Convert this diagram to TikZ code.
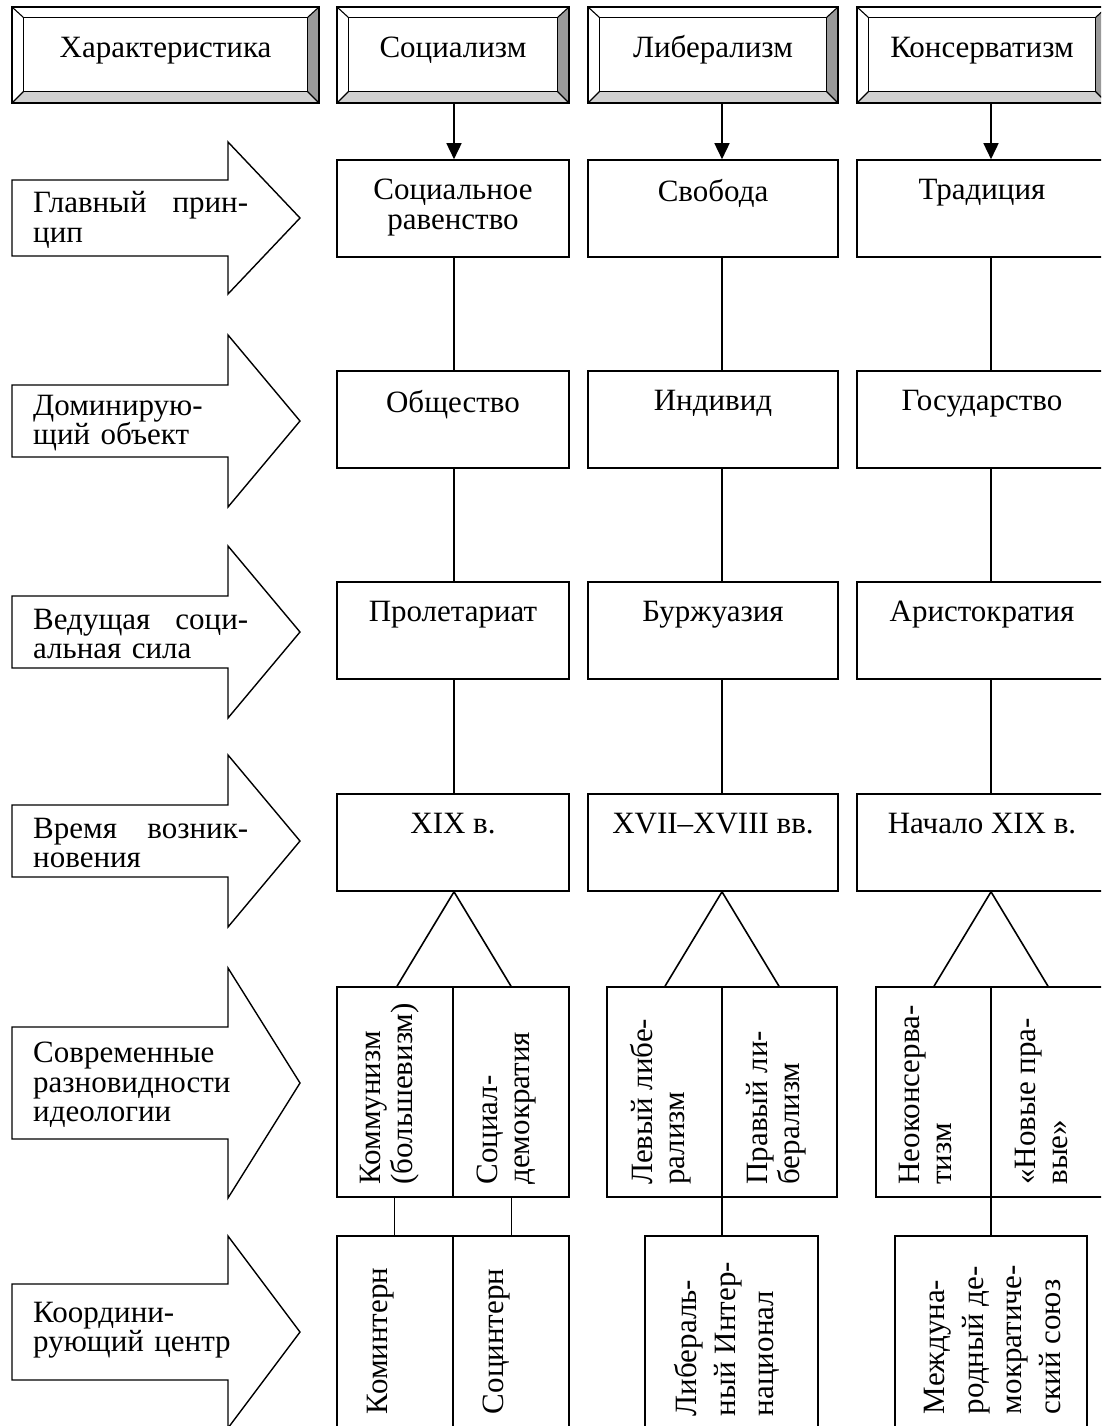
\documentclass[tikz,border=0pt]{standalone}
\usepackage{fontspec}
\setmainfont{Liberation Serif}
\usetikzlibrary{arrows.meta,calc}
\definecolor{bevR}{gray}{0.6}
\definecolor{bevB}{gray}{0.82}
\tikzset{
  ln/.style={line width=1.6pt},
  fnt/.style={font=\fontsize{31}{29.5}\selectfont},
  hbox/.style={inner sep=0pt, minimum height=96pt},
  cbox/.style={draw, ln, inner sep=0pt, minimum height=97pt},
  ctext/.style={fnt, inner sep=0pt, align=center, anchor=north},
  htext/.style={fnt, inner sep=0pt, anchor=base},
  ltext/.style={fnt, inner sep=0pt, text width=215pt, align=left, anchor=west},
  rtext/.style={font=\fontsize{31}{32}\selectfont, rotate=90, anchor=north west, inner sep=0pt, align=left},
  ktext/.style={font=\fontsize{31}{38.5}\selectfont, rotate=90, anchor=north west, inner sep=0pt, align=left},
  tip/.style={-{Triangle[width=15pt,length=16pt]}},
  larrow/.style={line width=1.4pt, line join=miter},
}
\newcommand\bevelbox[1]{%
  \fill[white] (#1.north west) -- (#1.north east) -- ($(#1.north east)+(-12,11)$) -- ($(#1.north west)+(12,11)$) -- cycle;
  \fill[white] (#1.north west) -- (#1.south west) -- ($(#1.south west)+(12,-12)$) -- ($(#1.north west)+(12,11)$) -- cycle;
  \fill[bevR] (#1.north east) -- (#1.south east) -- ($(#1.south east)+(-12,-12)$) -- ($(#1.north east)+(-12,11)$) -- cycle;
  \fill[bevB] (#1.south west) -- (#1.south east) -- ($(#1.south east)+(-12,-12)$) -- ($(#1.south west)+(12,-12)$) -- cycle;
  \draw[line width=1.3pt] ($(#1.north west)+(12,11)$) rectangle ($(#1.south east)+(-12,-12)$);
  \draw[line width=1.1pt] (#1.north west) -- ($(#1.north west)+(12,11)$)
        (#1.north east) -- ($(#1.north east)+(-12,11)$)
        (#1.south west) -- ($(#1.south west)+(12,-12)$)
        (#1.south east) -- ($(#1.south east)+(-12,-12)$);
  \draw[line width=2pt] (#1.north west) rectangle (#1.south east);
}
\newcommand\leftarrowshape[3]{% cy, body half, head half
  \draw[larrow] (12,#1-#2) -- (228,#1-#2) -- (228,#1-#3) -- (300,#1) -- (228,#1+#3) -- (228,#1+#2) -- (12,#1+#2) -- cycle;
}
\begin{document}
\begin{tikzpicture}[x=1pt,y=-1pt]
\useasboundingbox (0,0) rectangle (1101,1426);
\clip (0,0) rectangle (1101,1426);
\fill[white] (0,0) rectangle (1101,1426);

% column line positions
\coordinate (X1) at (454,0);
\coordinate (X2) at (722,0);
\coordinate (X3) at (991,0);

% header boxes
\node[hbox, minimum width=307pt] (h0) at (165.5,55) {};
\node[hbox, minimum width=232pt] (h1) at (453,55) {};
\node[hbox, minimum width=250pt] (h2) at (713,55) {};
\node[hbox, minimum width=250pt] (h3) at (982,55) {};
\bevelbox{h0}\bevelbox{h1}\bevelbox{h2}\bevelbox{h3}
\node[htext] (th0) at (h0.center |- 0,58) {Характеристика};
\node[htext] (th1) at (h1.center |- 0,58) {Социализм};
\node[htext] (th2) at (h2.center |- 0,58) {Либерализм};
\node[htext] (th3) at (h3.center |- 0,58) {Консерватизм};

% row boxes
\foreach \r/\cy in {1/208.5,2/419.5,3/630.5,4/842.5}{
  \node[cbox, minimum width=232pt] (s\r) at (453,\cy) {};
  \node[cbox, minimum width=250pt] (l\r) at (713,\cy) {};
  \node[cbox, minimum width=250pt] (c\r) at (982,\cy) {};
}
\node[ctext] (ts1) at ($(s1.north)+(0,20)$) {Социальное\\равенство};
\node[ctext] (tl1) at ($(l1.north)+(0,20)$) {Свобода};
\node[ctext] (tc1) at ($(c1.north)+(0,20)$) {Традиция};
\node[ctext] (ts2) at ($(s2.north)+(0,20)$) {Общество};
\node[ctext] (tl2) at ($(l2.north)+(0,20)$) {Индивид};
\node[ctext] (tc2) at ($(c2.north)+(0,20)$) {Государство};
\node[ctext] (ts3) at ($(s3.north)+(0,20)$) {Пролетариат};
\node[ctext] (tl3) at ($(l3.north)+(0,20)$) {Буржуазия};
\node[ctext] (tc3) at ($(c3.north)+(0,20)$) {Аристократия};
\node[ctext] (ts4) at ($(s4.north)+(0,20)$) {XIX в.};
\node[ctext] (tl4) at ($(l4.north)+(0,20)$) {XVII–XVIII вв.};
\node[ctext] (tc4) at ($(c4.north)+(0,20)$) {Начало XIX в.};

% arrows from headers
\draw[ln, tip] (h1.south -| X1) -- (s1.north -| X1);
\draw[ln, tip] (h2.south -| X2) -- (l1.north -| X2);
\draw[ln, tip] (h3.south -| X3) -- (c1.north -| X3);
% vertical connectors
\foreach \a/\b in {1/2,2/3,3/4}{
  \draw[ln] (s\a.south -| X1) -- (s\b.north -| X1);
  \draw[ln] (l\a.south -| X2) -- (l\b.north -| X2);
  \draw[ln] (c\a.south -| X3) -- (c\b.north -| X3);
}

% variety boxes
\node[cbox, minimum width=232pt, minimum height=210pt] (v1) at (453,1092) {};
\node[cbox, minimum width=230pt, minimum height=210pt] (v2) at (722,1092) {};
\node[cbox, minimum width=230pt, minimum height=210pt] (v3) at (991,1092) {};
\draw[ln] (v1.north) -- (v1.south);
\draw[ln] (v2.north) -- (v2.south);
\draw[ln] (v3.north) -- (v3.south);
% triangles
\draw[ln] ($(v1.north -| X1)+(-57,0)$) -- (s4.south -| X1) -- ($(v1.north -| X1)+(57,0)$);
\draw[ln] ($(v2.north -| X2)+(-57,0)$) -- (l4.south -| X2) -- ($(v2.north -| X2)+(57,0)$);
\draw[ln] ($(v3.north -| X3)+(-57,0)$) -- (c4.south -| X3) -- ($(v3.north -| X3)+(57,0)$);

\node[rtext] (tv1a) at ($(v1.south west)+(24,-13)$) {Коммунизм\\(большевизм)};
\node[rtext] (tv1b) at ($(v1.south)+(24,-13)$) {Социал-\\демократия};
\node[rtext] (tv2a) at ($(v2.south west)+(24,-13)$) {Левый либе-\\рализм};
\node[rtext] (tv2b) at ($(v2.south)+(24,-13)$) {Правый ли-\\берализм};
\node[rtext] (tv3a) at ($(v3.south west)+(24,-13)$) {Неоконсерва-\\тизм};
\node[rtext] (tv3b) at ($(v3.south)+(24,-13)$) {«Новые пра-\\вые»};

% coordinating centres
\node[cbox, minimum width=232pt, minimum height=210pt] (z1) at (453,1341) {};
\node[cbox, minimum width=173pt, minimum height=210pt] (z2) at (731.5,1341) {};
\node[cbox, minimum width=192pt, minimum height=210pt] (z3) at (991,1341) {};
\draw[ln] (z1.north) -- (z1.south);
\draw[ln] ($(v1.south west)!0.25!(v1.south east)$) -- ($(z1.north west)!0.25!(z1.north east)$);
\draw[ln] ($(v1.south west)!0.75!(v1.south east)$) -- ($(z1.north west)!0.75!(z1.north east)$);
\draw[ln] (v2.south) -- (v2.south |- z2.north);
\draw[ln] (v3.south) -- (z3.north);

\node[ktext] (tz1a) at ($(z1.north west)+(31,179)$) {Коминтерн};
\node[ktext] (tz1b) at ($(z1.north)+(30,179)$) {Социнтерн};
\node[ktext] (tz2) at ($(z2.north west)+(30,181)$) {Либераль-\\ный Интер-\\национал};
\node[ktext] (tz3) at ($(z3.north west)+(30,179)$) {Междуна-\\родный де-\\мократиче-\\ский союз};

% left arrows
\leftarrowshape{218}{38}{76}
\leftarrowshape{421}{36}{86}
\leftarrowshape{632}{36}{86}
\leftarrowshape{841}{36}{86}
\leftarrowshape{1083}{56}{115}
\leftarrowshape{1332}{48}{96}
\node[ltext] (a1) at (33,220) {Главный\hfill прин-\\цип};
\node[ltext] (a2) at (33,423) {Доминирую-\\щий объект};
\node[ltext] (a3) at (33,634) {Ведущая\hfill соци-\\альная сила};
\node[ltext] (a4) at (33,843) {Время\hfill возник-\\новения};
\node[ltext] (a5) at (33,1085) {Современные\\разновидности\\идеологии};
\node[ltext] (a6) at (33,1330) {Координи-\\рующий центр};
\end{tikzpicture}
\end{document}
